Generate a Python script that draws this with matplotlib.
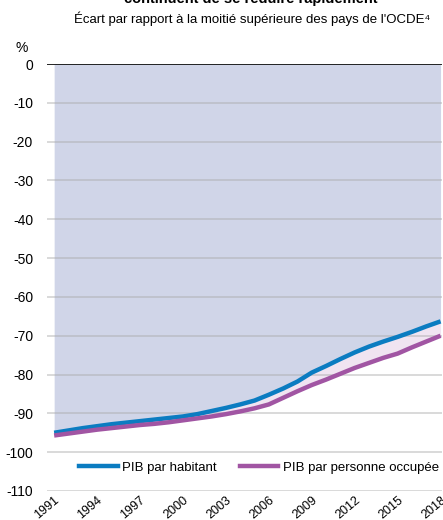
import matplotlib
matplotlib.use("Agg")
import matplotlib.pyplot as plt
from matplotlib.lines import Line2D

plt.rcParams['font.family'] = ['Liberation Sans', 'DejaVu Sans']

years = list(range(1991, 2019))
pib_habitant = [-95.0, -94.4, -93.8, -93.3, -92.8, -92.4, -92.0, -91.6, -91.2, -90.8,
                -90.2, -89.4, -88.6, -87.7, -86.7, -85.2, -83.6, -81.8, -79.5, -77.8,
                -76.0, -74.3, -72.8, -71.5, -70.3, -69.0, -67.6, -66.3]
pib_occupee = [-95.7, -95.2, -94.7, -94.2, -93.8, -93.4, -93.0, -92.7, -92.3, -91.8,
               -91.3, -90.8, -90.2, -89.5, -88.7, -87.7, -86.0, -84.3, -82.7, -81.3,
               -79.8, -78.3, -77.0, -75.7, -74.6, -73.0, -71.5, -70.0]
xtick_years = [1991, 1994, 1997, 2000, 2003, 2006, 2009, 2012, 2015, 2018]
ytick_vals = [0, -10, -20, -30, -40, -50, -60, -70, -80, -90, -100, -110]

blue = '#0b7cc1'
purple = '#a155a3'

fig = plt.figure(figsize=(4.43, 5.20), dpi=100)
ax = fig.add_axes([47 / 443, 1 - 491 / 520, 395 / 443, 427 / 520])

ax.fill_between(years, pib_habitant, 0, color='#d0d5e8', lw=0, zorder=1)
ax.fill_between(years, pib_occupee, pib_habitant, color='#f0e4f1', lw=0, zorder=1)

for v in ytick_vals[1:]:
    ax.axhline(v, color='#a8a8a8', alpha=0.5, lw=1.2, zorder=2)
ax.axhline(0, color='black', lw=1.2, zorder=3)

ax.plot(years, pib_habitant, color=blue, lw=3.2, zorder=4, solid_capstyle='butt')
ax.plot(years, pib_occupee, color=purple, lw=3.2, zorder=4, solid_capstyle='butt')

ax.set_xlim(1990.5, 2018.1)
ax.set_ylim(-110, 0)
for s in ax.spines.values():
    s.set_visible(False)

ax.set_yticks(ytick_vals)
ax.set_yticklabels([str(v) for v in ytick_vals], fontsize=10)
ax.tick_params(axis='y', length=0, pad=10)
ax.set_xticks(xtick_years)
ax.set_xticklabels([str(y) for y in xtick_years], fontsize=9, rotation=40,
                   ha='right', va='top', rotation_mode='anchor')
ax.tick_params(axis='x', length=0, pad=2.5)

handles = [Line2D([], [], color=blue, lw=3.2), Line2D([], [], color=purple, lw=3.2)]
ax.legend(handles, ['PIB par habitant', 'PIB par personne occupée'], ncol=2,
          loc='lower center', bbox_to_anchor=(0.537, 0.012), frameon=False,
          fontsize=9.5, handlelength=2.9, handletextpad=0.35, columnspacing=1.75)

fig.text(0.565, 1.002, 'continuent de se réduire rapidement', ha='center', va='center',
         fontsize=10.5, fontweight='bold')
fig.text(0.57, 0.963, "Écart par rapport à la moitié supérieure des pays de l'OCDE⁴",
         ha='center', va='center', fontsize=9.5)
fig.text(0.05, 0.908, '%', ha='center', va='center', fontsize=10)

fig.savefig('out.png', dpi=100)
